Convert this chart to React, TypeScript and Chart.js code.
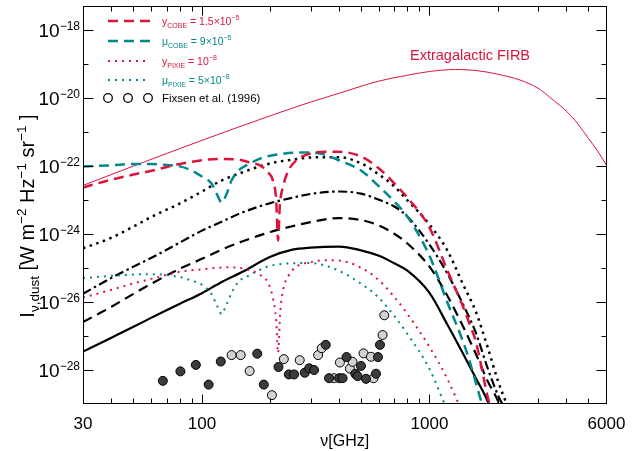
import React, { useEffect, useRef } from 'react';
import { Chart, registerables } from 'chart.js';

Chart.register(...registerables);

const FONT = '"Liberation Sans", Arial, Helvetica, sans-serif';
const RED = '#dc143c';
const TEAL = '#00898a';

// ---- Extragalactic FIRB (thin red) ----
const firbNu = [30, 50, 100, 200, 300, 400, 600, 800, 1000, 1300, 1600, 2000, 2500, 3000, 3500, 4000, 4500, 5000, 5500, 6000];
const firbI = [2.69e-23, 1.0e-22, 5.69e-22, 3.02e-21, 7.59e-21, 1.38e-20, 3.16e-20, 4.68e-20, 6.03e-20, 6.92e-20, 6.46e-20, 5.01e-20, 3.39e-20, 1.95e-20, 8.71e-21, 4.07e-21, 1.70e-21, 6.46e-22, 2.69e-22, 1.05e-22];

// ---- y_COBE (red dashed) ----
const yCobeNu = [30, 40, 50, 60, 80, 100, 120, 145, 165, 180, 195, 205, 212, 216, 220, 228, 240, 260, 300, 350, 400, 500, 600, 700, 800, 1000, 1200, 1400, 1500, 1600, 1800, 1900];
const yCobeI = [2.34e-23, 3.98e-23, 5.62e-23, 7.24e-23, 1.15e-22, 1.48e-22, 1.62e-22, 1.55e-22, 1.23e-22, 1.05e-22, 6.46e-23, 3.80e-23, 9.77e-24, 6.46e-25, 6.92e-24, 2.69e-23, 7.41e-23, 1.48e-22, 2.34e-22, 2.63e-22, 2.63e-22, 1.91e-22, 8.51e-23, 3.09e-23, 1.17e-23, 1.55e-24, 8.32e-26, 7.76e-27, 2.29e-27, 6.76e-28, 1.7e-29, 4.37e-30];

// ---- mu_COBE (teal dashed) ----
const muCobeNu = [30, 40, 50, 60, 70, 80, 90, 100, 110, 116, 122, 128, 135, 145, 160, 180, 200, 250, 300, 350, 400, 500, 600, 700, 800, 1000, 1200, 1400, 1500, 1600, 1700, 1800];
const muCobeI = [9.77e-23, 1.05e-22, 1.15e-22, 1.15e-22, 1.07e-22, 9.77e-23, 7.41e-23, 4.90e-23, 3.09e-23, 1.55e-23, 8.51e-24, 1.45e-23, 3.80e-23, 7.41e-23, 1.12e-22, 1.66e-22, 2.00e-22, 2.45e-22, 2.51e-22, 2.14e-22, 1.48e-22, 7.41e-23, 2.51e-23, 9.12e-24, 3.24e-24, 2.29e-25, 9.55e-27, 7.24e-28, 1.86e-28, 4.17e-29, 1.0e-29, 2.24e-30];

// ---- y_PIXIE (red dotted) ----
const yPixieNu = [30, 40, 50, 60, 80, 100, 130, 160, 180, 195, 205, 212, 216, 221, 228, 240, 260, 300, 350, 400, 500, 600, 700, 800, 1000, 1200, 1400];
const yPixieI = [1.35e-26, 2.29e-26, 3.55e-26, 4.79e-26, 7.76e-26, 9.12e-26, 1.05e-25, 8.91e-26, 6.31e-26, 3.72e-26, 1.32e-26, 2.82e-27, 3.16e-28, 5.50e-27, 2.45e-26, 5.89e-26, 1.10e-25, 1.48e-25, 1.70e-25, 1.66e-25, 1.02e-25, 4.37e-26, 1.41e-26, 4.47e-27, 4.79e-28, 5.37e-29, 5.37e-30];

// ---- mu_PIXIE (teal dotted) ----
const muPixieNu = [30, 40, 60, 80, 90, 100, 110, 116, 122, 128, 135, 145, 160, 180, 200, 250, 300, 350, 400, 500, 600, 700, 800, 1000, 1200];
const muPixieI = [5.01e-26, 5.89e-26, 6.61e-26, 5.37e-26, 4.27e-26, 3.24e-26, 1.74e-26, 8.32e-27, 4.47e-27, 8.32e-27, 1.86e-26, 3.98e-26, 5.89e-26, 8.91e-26, 1.17e-25, 1.38e-25, 1.41e-25, 1.17e-25, 8.32e-26, 3.47e-26, 1.32e-26, 3.89e-27, 1.15e-27, 1.07e-28, 6.17e-30];

// ---- dust models (black) ----
const dustNu = [30, 40, 50, 60, 80, 100, 120, 150, 200, 250, 300, 400, 500, 600, 700, 800, 1000, 1200, 1400, 1600, 1800, 2000, 2200];
const dustSolidI = [3.47e-28, 8.91e-28, 1.86e-27, 3.47e-27, 8.91e-27, 1.82e-26, 3.63e-26, 7.59e-26, 2.14e-25, 3.47e-25, 3.98e-25, 4.27e-25, 3.31e-25, 2.29e-25, 1.38e-25, 8.32e-26, 1.86e-26, 2.14e-27, 3.16e-28, 5.75e-29, 1.23e-29, 2.0e-30, 5.0e-31];
const dustDashedI = [2.57e-27, 7.24e-27, 1.74e-26, 3.47e-26, 9.55e-26, 1.86e-25, 3.31e-25, 6.03e-25, 1.15e-24, 1.70e-24, 2.24e-24, 2.95e-24, 2.57e-24, 1.78e-24, 1.02e-24, 5.25e-25, 1.10e-25, 1.51e-26, 2.00e-27, 2.95e-28, 4.79e-29, 1.23e-29, 2.0e-30];
const dustDashDotI = [1.74e-26, 5.13e-26, 1.10e-25, 2.00e-25, 5.62e-25, 1.26e-24, 2.19e-24, 4.27e-24, 8.13e-24, 1.17e-23, 1.51e-23, 1.78e-23, 1.55e-23, 1.02e-23, 6.46e-24, 3.24e-24, 4.90e-25, 6.76e-26, 8.91e-27, 1.23e-27, 1.15e-28, 1.82e-29, 5.37e-30];
const dustDottedI = [3.80e-25, 7.76e-25, 1.66e-24, 3.2e-24, 7.94e-24, 1.78e-23, 3.55e-23, 6.46e-23, 1.20e-22, 1.55e-22, 1.78e-22, 1.82e-22, 1.20e-22, 5.62e-23, 2.51e-23, 9.77e-24, 1.91e-24, 3.24e-25, 3.47e-26, 5.13e-27, 4.79e-28, 4.79e-29, 8.71e-30];

// ---- Fixsen et al. (1996) points ----
const fixDarkNu = [67.3, 80.4, 94, 107, 121, 175, 187, 217, 241, 254, 283, 296, 311, 350, 362, 401, 415, 432, 472, 483, 500, 526, 582, 594, 606];
const fixDarkI = [4.79e-29, 9.12e-29, 1.41e-28, 3.72e-29, 1.78e-28, 3.02e-28, 3.72e-29, 1.23e-28, 7.41e-29, 7.41e-29, 8.32e-29, 1.12e-28, 1.0e-28, 5.5e-28, 5.75e-29, 5.75e-29, 5.75e-29, 2.4e-28, 7.76e-29, 6.61e-29, 1.32e-28, 5.5e-29, 7.76e-29, 2.4e-28, 5.5e-28];
const fixLightNu = [135, 148, 162, 203, 229, 269, 324, 336, 380, 404, 447, 459, 513, 553, 568, 622, 633];
const fixLightI = [2.75e-28, 2.75e-28, 9.33e-29, 1.82e-29, 2.09e-28, 1.95e-28, 2.75e-28, 4.37e-28, 5.75e-29, 1.66e-28, 1.10e-28, 1.74e-28, 3.09e-28, 2.45e-28, 5.75e-29, 1.07e-27, 4.07e-27];

// ---- axes ----
const xMin = 30;
const xMax = 6000;
const yMin = 1e-29;
const yMax = 5.1e-18;
const xTickLabels = [30, 100, 1000, 6000];
const xMajorTicks = [100, 1000];
const xMinorTicks = [40, 50, 60, 70, 80, 90, 200, 300, 400, 500, 600, 700, 800, 900, 2000, 3000, 4000, 5000];
const yLabelExps = [-18, -20, -22, -24, -26, -28];
const yMinorExps = [-19, -21, -23, -25, -27];

type Seg = { t: string; s: number; dy?: number };

const dashed = [10, 6];
const dotted = [2, 5];
const blackDotted = [2.5, 4.5];
const dashDot = [9, 3.5, 2.5, 3.5];

const legendRows: { color: string; dash: number[] | null; width: number; segs: Seg[] }[] = [
  { color: RED, dash: dashed, width: 2.5, segs: [{ t: 'y', s: 10.5 }, { t: 'COBE', s: 7, dy: 3 }, { t: ' = 1.5×10', s: 10.5 }, { t: '−5', s: 7, dy: -5 }] },
  { color: TEAL, dash: dashed, width: 2.5, segs: [{ t: 'μ', s: 10.5 }, { t: 'COBE', s: 7, dy: 3 }, { t: ' = 9×10', s: 10.5 }, { t: '−5', s: 7, dy: -5 }] },
  { color: RED, dash: dotted, width: 2, segs: [{ t: 'y', s: 10.5 }, { t: 'PIXIE', s: 7, dy: 3 }, { t: ' = 10', s: 10.5 }, { t: '−8', s: 7, dy: -5 }] },
  { color: TEAL, dash: dotted, width: 2, segs: [{ t: 'μ', s: 10.5 }, { t: 'PIXIE', s: 7, dy: 3 }, { t: ' = 5×10', s: 10.5 }, { t: '−8', s: 7, dy: -5 }] },
];
const legendRowY = [21, 41, 61, 80];
const fixsenLabel = 'Fixsen et al. (1996)';
const firbLabel = 'Extragalactic FIRB';

const yTitle: Seg[] = [
  { t: 'I', s: 20 },
  { t: 'ν,dust', s: 13.5, dy: 5 },
  { t: ' [W m', s: 20 },
  { t: '−2', s: 13.5, dy: -8.5 },
  { t: ' Hz', s: 20 },
  { t: '−1', s: 13.5, dy: -8.5 },
  { t: ' sr', s: 20 },
  { t: '−1', s: 13.5, dy: -8.5 },
  { t: ' ]', s: 20 },
];

function richWidth(ctx: CanvasRenderingContext2D, segs: Seg[]) {
  let w = 0;
  for (const s of segs) {
    ctx.font = `${s.s}px ${FONT}`;
    w += ctx.measureText(s.t).width;
  }
  return w;
}

function drawRich(ctx: CanvasRenderingContext2D, segs: Seg[], x: number, y: number, align: 'left' | 'center' | 'right', color: string) {
  const w = richWidth(ctx, segs);
  let cx = align === 'center' ? x - w / 2 : align === 'right' ? x - w : x;
  ctx.textAlign = 'left';
  ctx.textBaseline = 'alphabetic';
  ctx.fillStyle = color;
  for (const s of segs) {
    ctx.font = `${s.s}px ${FONT}`;
    ctx.fillText(s.t, cx, y + (s.dy || 0));
    cx += ctx.measureText(s.t).width;
  }
}

const overlay = {
  id: 'overlay',
  afterDraw(chart: any) {
    const { ctx, chartArea: a } = chart;
    const xs = chart.scales.x;
    const ys = chart.scales.y;
    ctx.save();
    ctx.strokeStyle = '#000';
    ctx.lineWidth = 1;
    ctx.setLineDash([]);
    const L = Math.round(a.left) + 0.5;
    const R = Math.round(a.right) - 0.5;
    const T = Math.round(a.top) + 0.5;
    const B = Math.round(a.bottom) - 0.5;
    ctx.strokeRect(L, T, R - L, B - T);

    ctx.beginPath();
    const xt = (v: number, len: number) => {
      const px = Math.round(xs.getPixelForValue(v)) + 0.5;
      ctx.moveTo(px, B); ctx.lineTo(px, B - len);
      ctx.moveTo(px, T); ctx.lineTo(px, T + len);
    };
    xMajorTicks.forEach((v) => xt(v, 9));
    xMinorTicks.forEach((v) => xt(v, 5));
    const yt = (e: number, len: number) => {
      const py = Math.round(ys.getPixelForValue(Math.pow(10, e))) + 0.5;
      ctx.moveTo(L, py); ctx.lineTo(L + len, py);
      ctx.moveTo(R, py); ctx.lineTo(R - len, py);
    };
    yLabelExps.forEach((e) => yt(e, 10));
    yMinorExps.forEach((e) => yt(e, 5));
    ctx.stroke();

    // x tick labels
    ctx.fillStyle = '#000';
    ctx.font = `17px ${FONT}`;
    ctx.textAlign = 'center';
    ctx.textBaseline = 'alphabetic';
    xTickLabels.forEach((v) => {
      ctx.fillText(String(v), xs.getPixelForValue(v), 429);
    });
    // y tick labels
    yLabelExps.forEach((e) => {
      const py = ys.getPixelForValue(Math.pow(10, e));
      drawRich(ctx, [{ t: '10', s: 19 }, { t: '−' + Math.abs(e), s: 12, dy: -7 }], 80, py + 7, 'right', '#000');
    });
    // axis titles
    drawRich(ctx, [{ t: 'ν[GHz]', s: 16 }], (a.left + a.right) / 2, 446, 'center', '#000');
    ctx.save();
    ctx.translate(34, (a.top + a.bottom) / 2 + 11);
    ctx.rotate(-Math.PI / 2);
    drawRich(ctx, yTitle, 0, 0, 'center', '#000');
    ctx.restore();

    // FIRB annotation
    drawRich(ctx, [{ t: firbLabel, s: 14.5 }], 470, 60, 'center', RED);

    // legend
    legendRows.forEach((r, i) => {
      const y = legendRowY[i];
      ctx.strokeStyle = r.color;
      ctx.lineWidth = r.width;
      ctx.setLineDash(r.dash || []);
      ctx.beginPath();
      ctx.moveTo(108, y);
      ctx.lineTo(150, y);
      ctx.stroke();
      drawRich(ctx, r.segs, 162, y + 4, 'left', r.color);
    });
    ctx.setLineDash([]);
    ctx.strokeStyle = '#000';
    ctx.lineWidth = 1.3;
    [108, 128, 148].forEach((cx) => {
      ctx.beginPath();
      ctx.arc(cx, 98, 4.3, 0, Math.PI * 2);
      ctx.stroke();
    });
    drawRich(ctx, [{ t: fixsenLabel, s: 11.5 }], 162, 102, 'left', '#000');
    ctx.restore();
  },
};

const pairs = (xs: number[], ys: number[]) => xs.map((x, i) => ({ x, y: ys[i] }));

export default function App() {
  const ref = useRef<HTMLCanvasElement>(null);
  useEffect(() => {
    const canvas = ref.current;
    if (!canvas) return;
    const line = (label: string, xs: number[], ys: number[], color: string, width: number, dash: number[]) => ({
      label,
      data: pairs(xs, ys),
      borderColor: color,
      backgroundColor: color,
      borderWidth: width,
      borderDash: dash,
      pointRadius: 0,
      fill: false,
      cubicInterpolationMode: 'monotone' as const,
    });
    const pts = (label: string, xs: number[], ys: number[], fill: string) => ({
      label,
      data: pairs(xs, ys),
      showLine: false,
      pointRadius: 4.5,
      pointBackgroundColor: fill,
      pointBorderColor: '#000',
      pointBorderWidth: 1,
      borderColor: '#000',
      backgroundColor: fill,
    });
    const chart = new Chart(canvas, {
      type: 'line',
      data: {
        datasets: [
          pts('Fixsen et al. (1996) dark', fixDarkNu, fixDarkI, '#3c3c3c'),
          pts('Fixsen et al. (1996) light', fixLightNu, fixLightI, '#d2d2d2'),
          line('y_COBE', yCobeNu, yCobeI, RED, 2.5, dashed),
          line('mu_COBE', muCobeNu, muCobeI, TEAL, 2.5, dashed),
          line('y_PIXIE', yPixieNu, yPixieI, RED, 2, dotted),
          line('mu_PIXIE', muPixieNu, muPixieI, TEAL, 2, dotted),
          line('dust solid', dustNu, dustSolidI, '#000', 2.2, []),
          line('dust dashed', dustNu, dustDashedI, '#000', 2.2, dashed),
          line('dust dash-dot', dustNu, dustDashDotI, '#000', 2.2, dashDot),
          line('dust dotted', dustNu, dustDottedI, '#000', 2.5, blackDotted),
          line('Extragalactic FIRB', firbNu, firbI, RED, 1, []),
        ],
      },
      options: {
        responsive: false,
        animation: false,
        devicePixelRatio: 1,
        events: [],
        layout: { padding: { top: 6, right: 33.5, left: 0, bottom: 0 } },
        plugins: { legend: { display: false }, tooltip: { enabled: false }, title: { display: false } },
        scales: {
          x: {
            type: 'logarithmic',
            min: xMin,
            max: xMax,
            ticks: { display: false },
            grid: { display: false },
            border: { display: false },
            afterFit: (s: any) => { s.height = 47; },
          },
          y: {
            type: 'logarithmic',
            min: yMin,
            max: yMax,
            ticks: { display: false },
            grid: { display: false },
            border: { display: false },
            afterFit: (s: any) => { s.width = 83; },
          },
        },
      } as any,
      plugins: [overlay],
    });
    return () => chart.destroy();
  }, []);
  return (
    <div style={{ position: 'fixed', left: 0, top: 0, width: 640, height: 451, background: '#fff' }}>
      <canvas ref={ref} width={640} height={451} style={{ display: 'block' }} />
    </div>
  );
}
